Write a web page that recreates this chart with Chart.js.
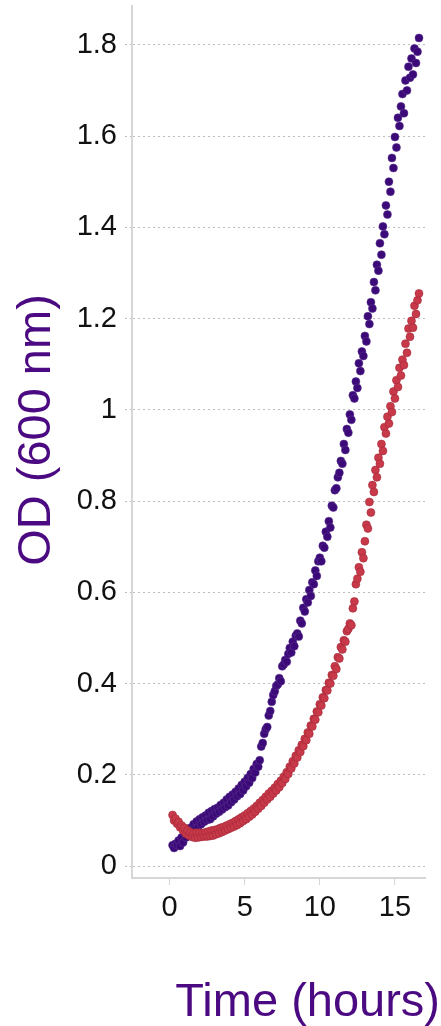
<!DOCTYPE html>
<html>
<head>
<meta charset="utf-8">
<script src="https://cdn.jsdelivr.net/npm/chart.js@4"></script>
<style>
  html,body{margin:0;padding:0;background:#fff;}
  #wrap{width:441px;height:1026px;position:relative;}
</style>
</head>
<body>
<div id="wrap"><canvas id="odChart"></canvas></div>
<script>
/* ------------- DATA ------------- */
const times = [
  0.2,0.3,0.4,0.5,0.6,0.7,0.8,0.9,
  1.0,1.1,1.2,1.3,1.4,1.5,1.6,1.7,1.8,1.9,
  2.0,2.1,2.2,2.3,2.4,2.5,2.6,2.7,2.8,2.9,
  3.0,3.1,3.2,3.3,3.4,3.5,3.6,3.7,3.8,3.9,
  4.0,4.1,4.2,4.3,4.4,4.5,4.6,4.7,4.8,4.9,
  5.0,5.1,5.2,5.3,5.4,5.5,5.6,5.7,5.8,5.9,
  6.0,6.1,6.2,6.3,6.4,6.5,6.6,6.7,6.8,6.9,
  7.0,7.1,7.2,7.3,7.4,7.5,7.6,7.7,7.8,7.9,
  8.0,8.1,8.2,8.3,8.4,8.5,8.6,8.7,8.8,8.9,
  9.0,9.1,9.2,9.3,9.4,9.5,9.6,9.7,9.8,9.9,
  10.0,10.1,10.2,10.3,10.4,10.5,10.6,10.7,10.8,10.9,
  11.0,11.1,11.2,11.3,11.4,11.5,11.6,11.7,11.8,11.9,
  12.0,12.1,12.2,12.3,12.4,12.5,12.6,12.7,12.8,12.9,
  13.0,13.1,13.2,13.3,13.4,13.5,13.6,13.7,13.8,13.9,
  14.0,14.1,14.2,14.3,14.4,14.5,14.6,14.7,14.8,14.9,
  15.0,15.1,15.2,15.3,15.4,15.5,15.6,15.7,15.8,15.9,
  16.0,16.1,16.2,16.3,16.4,16.5,16.6
];

// purple strain
const odPurple = [
  0.046,0.040,0.049,0.046,0.056,0.044,0.063,0.052,
  0.072,0.063,0.078,0.071,0.084,0.076,0.092,0.082,0.098,0.085,
  0.103,0.092,0.107,0.097,0.111,0.101,0.117,0.103,0.121,0.109,
  0.125,0.115,0.128,0.119,0.134,0.124,0.139,0.129,0.146,0.133,
  0.152,0.140,0.157,0.146,0.163,0.153,0.170,0.158,0.178,0.166,
  0.185,0.175,0.193,0.183,0.202,0.193,0.213,0.205,0.224,0.218,
  0.232,0.262,0.270,0.290,0.300,0.305,0.330,0.340,0.360,0.375,
  0.383,0.395,0.398,0.412,0.405,0.438,0.442,0.452,0.448,0.465,
  0.478,0.468,0.492,0.482,0.505,0.510,0.503,0.538,0.532,0.566,
  0.558,0.585,0.578,0.605,0.592,0.622,0.618,0.648,0.636,0.668,
  0.676,0.668,0.702,0.698,0.733,0.722,0.756,0.742,0.790,0.786,
  0.824,0.828,0.852,0.862,0.888,0.882,0.925,0.912,0.958,0.950,
  0.990,0.978,1.032,1.025,1.062,1.048,1.102,1.085,1.128,1.118,
  1.162,1.150,1.205,1.188,1.236,1.222,1.280,1.262,1.318,1.305,
  1.365,1.340,1.402,1.385,1.448,1.428,1.500,1.478,1.552,1.530,
  1.598,1.575,1.640,1.622,1.665,1.692,1.650,1.722,1.700,1.752,
  1.728,1.770,1.735,1.792,1.760,1.785,1.815
];

// red strain
const odRed = [
  0.112,0.100,0.104,0.093,0.097,0.085,0.089,0.078,
  0.084,0.071,0.078,0.067,0.074,0.064,0.072,0.062,0.073,0.063,
  0.073,0.064,0.072,0.065,0.074,0.065,0.076,0.066,0.078,0.067,
  0.079,0.070,0.081,0.072,0.084,0.075,0.086,0.078,0.089,0.081,
  0.092,0.084,0.095,0.087,0.099,0.090,0.103,0.094,0.107,0.099,
  0.111,0.103,0.116,0.108,0.121,0.113,0.126,0.119,0.132,0.126,
  0.139,0.132,0.145,0.139,0.152,0.146,0.159,0.152,0.165,0.159,
  0.172,0.166,0.180,0.173,0.187,0.182,0.196,0.191,0.206,0.202,
  0.218,0.214,0.230,0.225,0.242,0.238,0.254,0.250,0.266,0.263,
  0.279,0.276,0.293,0.290,0.308,0.306,0.323,0.321,0.339,0.337,
  0.355,0.352,0.370,0.368,0.386,0.385,0.402,0.400,0.419,0.417,
  0.438,0.432,0.458,0.455,0.480,0.475,0.495,0.492,0.515,0.520,
  0.532,0.528,0.565,0.580,0.618,0.630,0.655,0.645,0.688,0.675,
  0.712,0.748,0.740,0.798,0.775,0.835,0.820,0.868,0.852,0.895,
  0.882,0.925,0.910,0.962,0.948,0.985,0.970,1.008,0.995,1.040,
  1.025,1.065,1.050,1.092,1.075,1.110,1.098,1.145,1.125,1.178,
  1.160,1.195,1.180,1.228,1.210,1.240,1.255
];

const yTicks = [0,0.2,0.4,0.6,0.8,1,1.2,1.4,1.6,1.8];
const xTicks = [0,5,10,15];
const yTitle = "OD (600 nm)";
const xTitle = "Time (hours)";

/* ------------- STYLE ------------- */
const FONT = "'Liberation Sans', Arial, sans-serif";
const TITLE_COLOR = "#4b0a82";
const GRID_COLOR = "#bdbdbd";
const AXIS_COLOR = "#d6d6d6";

/* ------------- TITLES ------------- */
// axis titles drawn by hand so they sit where the original has them
const axisTitles = {
  id:"axisTitles",
  afterDraw(chart){
    const c = chart.ctx;
    c.save();
    c.fillStyle = TITLE_COLOR;
    c.font = "47px " + FONT;
    c.textBaseline = "middle";
    c.textAlign = "center";
    c.translate(37, 430);
    c.rotate(-Math.PI/2);
    c.fillText(yTitle, 0, 0);
    c.restore();

    c.save();
    c.fillStyle = TITLE_COLOR;
    c.font = "47px " + FONT;
    c.textAlign = "right";
    c.textBaseline = "alphabetic";
    c.fillText(xTitle, 440, 1016);
    c.restore();
  }
};

/* ------------- CHART ------------- */
const pts = vals => times.map((t,i) => ({x:t, y:vals[i]}));

new Chart(document.getElementById("odChart"), {
  type:"scatter",
  data:{
    datasets:[
      {
        label:"red",
        data:pts(odRed),
        backgroundColor:"#c8394a",
        borderColor:"rgba(160,40,55,0.55)",
        borderWidth:1,
        pointRadius:4
      },
      {
        label:"purple",
        data:pts(odPurple),
        backgroundColor:"#3c0a78",
        borderColor:"rgba(90,50,140,0.55)",
        borderWidth:1,
        pointRadius:4
      }
    ]
  },
  options:{
    responsive:true,
    maintainAspectRatio:false,
    animation:false,
    layout:{padding:{left:0, right:16, top:6, bottom:0}},
    plugins:{legend:{display:false}, tooltip:{enabled:false}},
    scales:{
      x:{
        type:"linear",
        min:-2.5, max:17,
        afterBuildTicks:s => { s.ticks = xTicks.map(v => ({value:v})); },
        afterFit:s => { s.height = 148; s.paddingLeft = 0; s.paddingRight = 0; },
        border:{color:AXIS_COLOR, width:2},
        grid:{drawOnChartArea:false, color:AXIS_COLOR, tickLength:7, lineWidth:1},
        ticks:{color:"#111", padding:6, font:{family:FONT, size:29}}
      },
      y:{
        type:"linear",
        min:-0.026, max:1.885,
        afterBuildTicks:s => { s.ticks = yTicks.map(v => ({value:v})); },
        afterFit:s => { s.width = 132; s.paddingTop = 0; s.paddingBottom = 0; },
        border:{color:AXIS_COLOR, width:2, dash:[2,3]},
        grid:{color:GRID_COLOR, lineWidth:1, tickLength:7, tickBorderDash:[2,3]},
        ticks:{color:"#111", padding:8, font:{family:FONT, size:29},
               callback:v => String(Math.round(v*10)/10)}
      }
    }
  },
  plugins:[axisTitles]
});
</script>
</body>
</html>
